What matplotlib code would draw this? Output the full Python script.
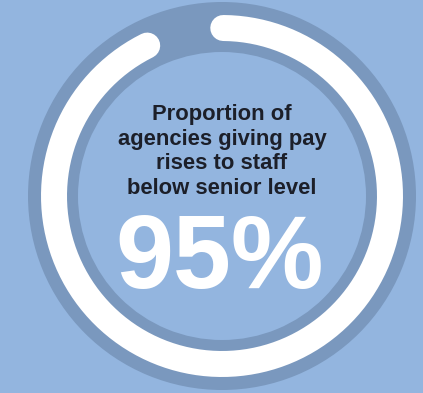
import numpy as np
import matplotlib.pyplot as plt
from matplotlib.patches import Wedge

# stat shown in the ring
share = 95
caption = ['Proportion of', 'agencies giving pay', 'rises to staff', 'below senior level']

bg = '#93b5df'
ring = '#7a98be'
ink = '#1c1f29'

W, H = 423, 393
cx, cy = 222, 196

fig = plt.figure(figsize=(W / 100, H / 100), dpi=100)
fig.patch.set_facecolor(bg)
ax = fig.add_axes([0, 0, 1, 1])
ax.set_xlim(0, W)
ax.set_ylim(H, 0)
ax.set_aspect('equal')
ax.axis('off')

# dark track
ax.add_patch(Wedge((cx, cy), 194, 0, 360, width=50, color=ring, lw=0))

# white progress arc, round caps, running clockwise from the top
r = 168
lw_px = 26
cap = np.degrees(lw_px / 2 / r)
start = 94
span = share / 100 * 360
theta = np.radians(np.linspace(start - cap, start - span + cap, 400))
ax.plot(cx + r * np.cos(theta), cy - r * np.sin(theta), color='white',
        lw=lw_px * 72 / 100, solid_capstyle='round')

font = ['Liberation Sans', 'DejaVu Sans']
for i, line in enumerate(caption):
    ax.text(cx, 120 + 24.5 * i, line, ha='center', va='baseline', fontsize=15.8,
            fontweight='bold', color=ink, family=font)
ax.text(cx - 2, 288, f'{share}%', ha='center', va='baseline', fontsize=75,
        fontweight='bold', color='white', family=font)

fig.savefig('out.png', dpi=100, facecolor=bg)
